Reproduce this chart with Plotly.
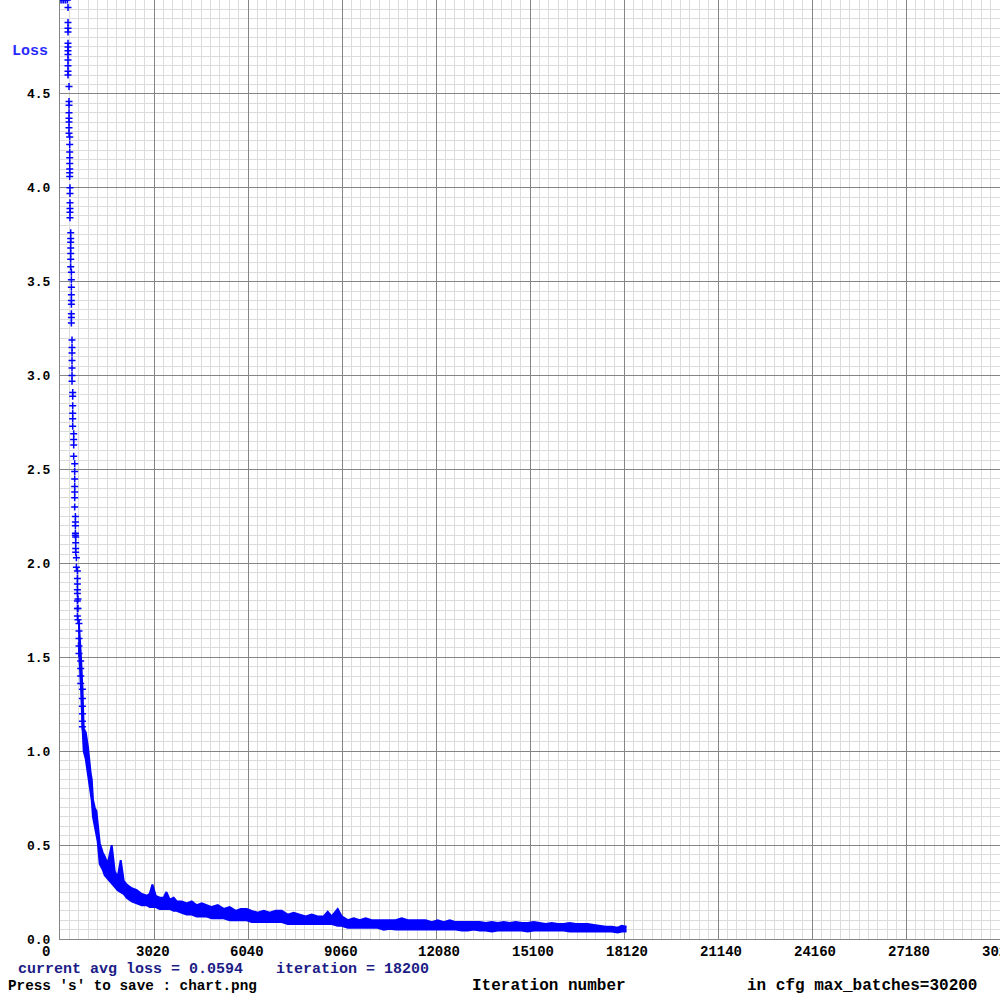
import plotly.graph_objects as go

# ---- data ----
# early, sparse part of the loss curve (iteration, loss)
early_iter = ([0, 60, 120, 180, 240] +
              [257] * 12 + [289] * 8 + [312] * 8 + [321] * 6 + [344] * 7 + [366] * 9 +
              [386] * 7 + [408] * 6 + [440] * 4 + [472] * 7 + [495] * 5 + [504] * 4 +
              [527] * 2 + [559] * 8 + [578] * 3 + [610] * 5 + [665] * 4 + [720] * 6)
early_loss = ([5.0, 5.0, 5.0, 5.0, 5.0] +
              [4.96, 4.88, 4.85, 4.83, 4.77, 4.75, 4.73, 4.71, 4.68, 4.65, 4.62, 4.60] +
              [4.54, 4.46, 4.44, 4.40, 4.37, 4.35, 4.32, 4.29] +
              [4.27, 4.23, 4.19, 4.16, 4.13, 4.10, 4.08, 4.06] +
              [4.00, 3.97, 3.92, 3.89, 3.87, 3.84] +
              [3.76, 3.73, 3.71, 3.68, 3.65, 3.62, 3.58] +
              [3.55, 3.51, 3.47, 3.43, 3.40, 3.38, 3.33, 3.31, 3.28] +
              [3.19, 3.15, 3.12, 3.08, 3.04, 3.00, 2.97] +
              [2.91, 2.89, 2.84, 2.80, 2.77, 2.73] +
              [2.69, 2.66, 2.63, 2.57] +
              [2.53, 2.49, 2.45, 2.41, 2.38, 2.35, 2.30] +
              [2.25, 2.22, 2.20, 2.16, 2.15] +
              [2.14, 2.11, 2.08, 2.06] +
              [2.03, 1.98] +
              [1.96, 1.92, 1.89, 1.86, 1.84, 1.80, 1.76, 1.72] +
              [1.81, 1.76, 1.70] +
              [1.68, 1.64, 1.60, 1.56, 1.52] +
              [1.48, 1.44, 1.40, 1.36] +
              [1.33, 1.28, 1.24, 1.20, 1.16, 1.13])

# dense part: lower and upper envelope of the noisy loss band
band_iter = [600, 640, 680, 720, 762, 826, 900, 986, 1019, 1060, 1115, 1170, 1211, 1276, 1372, 1436,
             1533, 1661,
             1758, 1854, 1950, 2047, 2143, 2304, 2464, 2625, 2786, 2882, 2969, 3075, 3203,
             3332, 3419, 3525, 3653, 3750, 3910, 4071, 4232, 4393, 4553, 4714, 4875, 5067,
             5260, 5453, 5645, 5806, 5999, 6159, 6352, 6545, 6738, 6930, 7123, 7316, 7508,
             7701, 7894, 8087, 8279, 8472, 8601, 8730, 8922, 9051, 9244, 9437, 9630, 9822,
             10015, 10208, 10401, 10594, 10786, 10979, 11172, 11365, 11557, 11750, 11943,
             12136, 12328, 12521, 12714, 12907, 13099, 13292, 13485, 13678, 13870, 14063,
             14256, 14449, 14641, 14834, 15027, 15220, 15412, 15605, 15798, 15991, 16183,
             16376, 16569, 16762, 16955, 17147, 17340, 17533, 17726, 17919, 18048, 18200]
band_low = [1.58, 1.46, 1.32, 1.14, 1.00, 0.96, 0.88, 0.80, 0.74, 0.65, 0.60, 0.56, 0.52, 0.40,
            0.37, 0.34, 0.32, 0.30,
            0.28, 0.26, 0.25, 0.24, 0.22, 0.20, 0.19, 0.18, 0.18, 0.17, 0.17, 0.17, 0.16,
            0.16, 0.16, 0.16, 0.15, 0.15, 0.14, 0.13, 0.13, 0.12, 0.12, 0.12, 0.11, 0.11,
            0.11, 0.10, 0.10, 0.10, 0.10, 0.09, 0.09, 0.09, 0.09, 0.09, 0.09, 0.08, 0.08,
            0.08, 0.08, 0.08, 0.08, 0.08, 0.08, 0.08, 0.07, 0.07, 0.06, 0.06, 0.06, 0.06,
            0.06, 0.06, 0.05, 0.055, 0.05, 0.05, 0.05, 0.05, 0.05, 0.05, 0.05,
            0.05, 0.05, 0.05, 0.05, 0.045, 0.045, 0.05, 0.045, 0.045, 0.04, 0.045,
            0.045, 0.045, 0.045, 0.045, 0.04, 0.045, 0.045, 0.045, 0.045, 0.045, 0.045,
            0.04, 0.04, 0.04, 0.04, 0.04, 0.04, 0.04, 0.04, 0.035, 0.04, 0.04]
band_high = [1.70, 1.60, 1.48, 1.33, 1.12, 1.10, 1.02, 0.88, 0.85, 0.74, 0.70, 0.68, 0.60, 0.51,
             0.46, 0.44, 0.40, 0.50,
             0.36, 0.33, 0.42, 0.31, 0.29, 0.27, 0.26, 0.24, 0.23, 0.24, 0.29, 0.23, 0.22,
             0.22, 0.25, 0.21, 0.22, 0.20, 0.20, 0.19, 0.20, 0.18, 0.19, 0.18, 0.17, 0.18,
             0.16, 0.17, 0.15, 0.16, 0.16, 0.15, 0.14, 0.15, 0.14, 0.15, 0.15, 0.13, 0.14,
             0.13, 0.12, 0.13, 0.12, 0.12, 0.145, 0.12, 0.16, 0.12, 0.10, 0.11, 0.10, 0.11,
             0.10, 0.10, 0.10, 0.10, 0.10, 0.11, 0.10, 0.10, 0.10, 0.10, 0.09,
             0.10, 0.09, 0.10, 0.09, 0.09, 0.09, 0.09, 0.09, 0.085, 0.09, 0.085,
             0.09, 0.085, 0.09, 0.085, 0.085, 0.09, 0.085, 0.08, 0.085, 0.08, 0.08,
             0.085, 0.08, 0.08, 0.08, 0.075, 0.07, 0.065, 0.065, 0.06, 0.07, 0.065]

x_ticks = [0, 3020, 6040, 9060, 12080, 15100, 18120, 21140, 24160, 27180, 30200]
y_ticks = [0.0, 0.5, 1.0, 1.5, 2.0, 2.5, 3.0, 3.5, 4.0, 4.5]
y_tick_text = ["0.0", "0.5", "1.0", "1.5", "2.0", "2.5", "3.0", "3.5", "4.0", "4.5"]

avg_loss_text = "current avg loss = 0.0594"
iteration_text = "iteration = 18200"
max_batches_text = "in cfg max_batches=30200"

# ---- figure ----
BLUE = "#0000ff"
NAVY = "#1c1c86"
MONO = "Liberation Mono"
L, T, R, B = 60, 0, 0, 61
W = H = 1000
PW, PH = W - L - R, H - T - B

fig = go.Figure()
fig.add_trace(go.Scatter(x=band_iter, y=band_low, mode="lines",
                         line=dict(color=BLUE, width=2), hoverinfo="skip"))
fig.add_trace(go.Scatter(x=band_iter, y=band_high, mode="lines", fill="tonexty",
                         fillcolor=BLUE, line=dict(color=BLUE, width=2), hoverinfo="skip"))
fig.add_trace(go.Scatter(x=early_iter, y=early_loss, mode="markers",
                         marker=dict(symbol="cross-thin", size=5, color=BLUE,
                                     line=dict(width=1.5, color=BLUE)),
                         hoverinfo="skip"))


def px_x(p):
    return (p - L) / PW


def px_y(p):
    return (H - B - p) / PH


ann = []
for v in x_ticks:
    ann.append(dict(x=v, xref="x", y=px_y(952), yref="paper", text=f"<b>{v}</b>",
                    showarrow=False, xanchor="left", yanchor="middle", xshift=-20,
                    font=dict(family=MONO, size=14, color="#000000")))
ann += [
    dict(x=px_x(10), y=px_y(51), text="<b>Loss</b>", font=dict(family=MONO, size=15, color="#2a2aff")),
    dict(x=px_x(16), y=px_y(969), text=f"<b>{avg_loss_text}</b>", font=dict(family=MONO, size=15, color=NAVY)),
    dict(x=px_x(274), y=px_y(969), text=f"<b>{iteration_text}</b>", font=dict(family=MONO, size=15, color=NAVY)),
    dict(x=px_x(6), y=px_y(986), text="<b>Press 's' to save : chart.png</b>",
         font=dict(family=MONO, size=14.3, color="#000000")),
    dict(x=px_x(470), y=px_y(986), text="<b>Iteration number</b>", font=dict(family=MONO, size=16, color="#000000")),
    dict(x=px_x(745), y=px_y(986), text=f"<b>{max_batches_text}</b>", font=dict(family=MONO, size=16, color="#000000")),
]
for a in ann[len(x_ticks):]:
    a.update(xref="paper", yref="paper", showarrow=False, xanchor="left", yanchor="middle")

fig.update_layout(
    width=W, height=H, margin=dict(l=L, r=R, t=T, b=B, pad=0),
    paper_bgcolor="white", plot_bgcolor="white", showlegend=False,
    annotations=ann,
    xaxis=dict(range=[0, 30200], tickvals=x_ticks, showticklabels=False,
               showgrid=True, gridcolor="#858585", gridwidth=1,
               minor=dict(dtick=302, tick0=0, showgrid=True, gridcolor="#dcdcdc", gridwidth=1),
               showline=True, linecolor="#858585", linewidth=1, zeroline=False, fixedrange=True),
    yaxis=dict(range=[0, 5], tickvals=y_ticks, ticktext=[f"<b>{t}</b>" for t in y_tick_text],
               tickfont=dict(family=MONO, size=13, color="#000000"), ticks="",
               ticklabelstandoff=6,
               showgrid=True, gridcolor="#858585", gridwidth=1,
               minor=dict(dtick=0.05, tick0=0, showgrid=True, gridcolor="#dcdcdc", gridwidth=1),
               showline=True, linecolor="#858585", linewidth=1, zeroline=False, fixedrange=True),
)

fig.write_html("out.html", config={"displayModeBar": False},
               post_script="document.body.style.margin='0';document.body.style.overflow='hidden';")
